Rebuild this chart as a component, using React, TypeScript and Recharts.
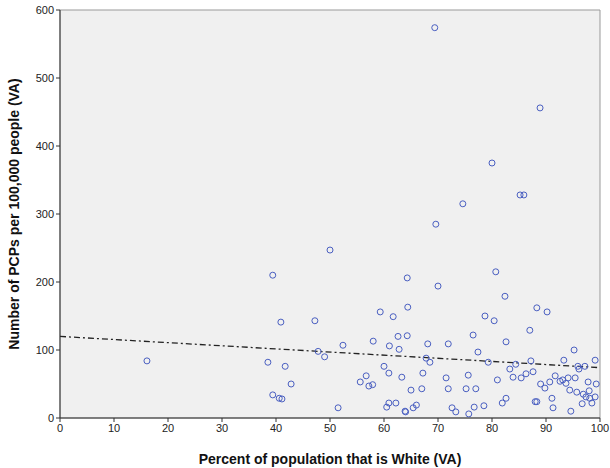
import { ScatterChart, Scatter, XAxis, YAxis, ReferenceLine, ReferenceArea } from "recharts"

const whitePct = [16.1, 38.5, 39.4, 39.4, 40.6, 41.1, 40.9, 41.7, 42.8, 47.2, 47.8, 49, 50, 51.5, 52.4, 55.6, 56.7, 57.2, 57.9, 58, 59.3, 60, 60.5, 60.9, 60.9, 61, 61.7, 62.2, 62.6, 62.8, 63.3, 63.9, 64, 64.3, 64.3, 64.4, 65, 65.4, 66, 67, 67.2, 67.8, 68.1, 68.5, 69.4, 69.6, 70, 71.5, 71.9, 71.9, 72.6, 73.3, 74.6, 75.2, 75.6, 75.7, 76.5, 76.7, 77, 77.4, 78.5, 78.7, 79.3, 80, 80.4, 80.7, 81, 81.9, 82.4, 82.6, 82.6, 83.3, 83.9, 84.4, 85.2, 85.9, 85.4, 86.3, 87, 87.2, 87.6, 88, 88.3, 88.3, 88.9, 89, 89.8, 90.2, 90.7, 91.1, 91.3, 91.7, 92.6, 93.1, 93.3, 93.7, 94.1, 94.4, 94.6, 95.2, 95.4, 95.7, 95.9, 96.1, 96.7, 96.9, 97.2, 97.4, 97.8, 98.1, 98.5, 99.1, 99.1, 99.3, 98]
const pcps = [84, 82, 210, 34, 29, 28, 141, 76, 50, 143, 98, 90, 247, 15, 107, 53, 62, 47, 49, 113, 156, 76, 16, 22, 66, 106, 149, 22, 120, 101, 60, 10, 9, 206, 121, 163, 41, 15, 19, 43, 66, 88, 109, 82, 574, 285, 194, 59, 109, 43, 15, 9, 315, 43, 63, 6, 122, 16, 43, 97, 18, 150, 82, 375, 143, 215, 56, 22, 179, 112, 29, 72, 60, 79, 328, 328, 59, 65, 129, 84, 68, 24, 24, 162, 456, 50, 44, 156, 53, 29, 15, 62, 54, 56, 85, 51, 59, 41, 10, 100, 59, 38, 76, 72, 21, 35, 76, 31, 53, 29, 22, 85, 31, 50, 40]
const xTicks = [0, 10, 20, 30, 40, 50, 60, 70, 80, 90, 100]
const yTicks = [0, 100, 200, 300, 400, 500, 600]
const fitLine = [{ x: 0, y: 120 }, { x: 100, y: 74 }]

const points = whitePct.map((x, i) => ({ x, y: pcps[i] }))

const tickStyle = { fontFamily: "Arial, 'Liberation Sans'", fontSize: 11, fill: "#222" }
const labelStyle = { fontFamily: "Arial, 'Liberation Sans'", fontSize: 14, fontWeight: "bold", fill: "#111" }

export default function App() {
  return (
    <div style={{ position: "absolute", left: 0, top: 0, width: 610, height: 468, background: "#fff" }}>
      <ScatterChart width={610} height={468} margin={{ top: 10, right: 10, bottom: 0, left: 0 }}>
        <ReferenceArea x1={0} x2={100} y1={0} y2={600} fill="#f0f0f0" fillOpacity={1} stroke="#999" />
        <XAxis type="number" dataKey="x" domain={[0, 100]} ticks={xTicks} height={50} tick={tickStyle}
          stroke="#333" tickSize={4}
          label={{ value: "Percent of population that is White (VA)", position: "insideBottom", offset: 4, style: labelStyle }} />
        <YAxis type="number" dataKey="y" domain={[0, 600]} ticks={yTicks} width={60} tick={tickStyle}
          stroke="#333" tickSize={4}
          label={{ value: "Number of PCPs per 100,000 people (VA)", angle: -90, position: "insideLeft", offset: 14, style: { ...labelStyle, textAnchor: "middle" } }} />
        <ReferenceLine segment={fitLine} stroke="#222" strokeWidth={1.3} strokeDasharray="6 3 2 3" />
        <Scatter data={points} isAnimationActive={false} fill="none" stroke="#4a5fc1" strokeWidth={1}
          shape={(p: any) => <circle cx={p.cx} cy={p.cy} r={3} fill="none" stroke="#4a5fc1" strokeWidth={1} />} />
      </ScatterChart>
    </div>
  )
}
